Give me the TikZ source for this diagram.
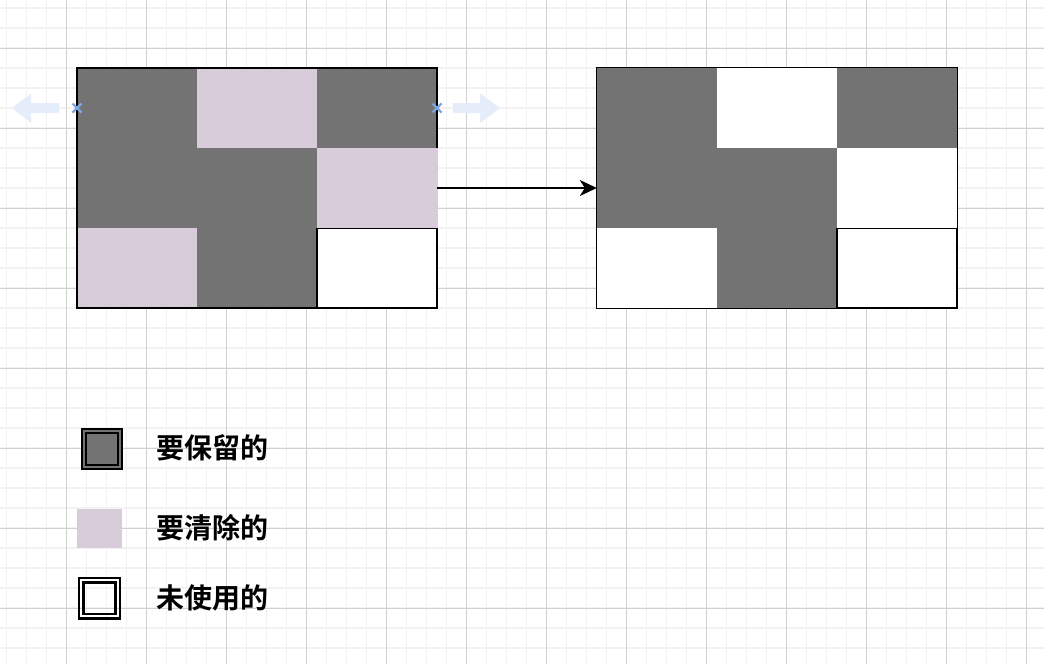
\documentclass[tikz,border=0pt]{standalone}
\usepackage{fontspec}
\newfontfamily\cjk{Noto Sans CJK SC}[BoldFont={Noto Sans CJK SC Bold}]
\usetikzlibrary{arrows.meta}
\definecolor{keep}{HTML}{737373}
\definecolor{clear}{HTML}{D9CCDA}
\definecolor{minorg}{HTML}{F2F2F2}
\definecolor{majorg}{HTML}{D0D0D0}
\definecolor{hint}{HTML}{7EA6E0}
\definecolor{hintfill}{HTML}{E4EDF9}
\begin{document}
\begin{tikzpicture}[x=1pt,y=-1pt,
  block/.style={minimum width=360pt,minimum height=240pt,inner sep=0pt,fill=keep},
  legendtext/.style={anchor=west,inner sep=0pt,font=\cjk\bfseries\fontsize{28}{30}\selectfont},
  edge/.style={line width=1.3pt},
  minorline/.style={minorg,line width=1.6pt},
  majorline/.style={majorg,line width=1pt},
  hintx/.style={hint,line width=2.2pt},
  hintarrow/.style={fill=hintfill,draw=none}]
\useasboundingbox (0,0) rectangle (1044,664);
\fill[white] (0,0) rectangle (1044,664);
% grid
\foreach \i in {0,...,51} \draw[minorline] (6.5+20*\i,0) -- (6.5+20*\i,664);
\foreach \i in {0,...,32} \draw[minorline] (0,8+20*\i) -- (1044,8+20*\i);
\foreach \i in {0,...,12} \draw[majorline] (66.5+80*\i,0) -- (66.5+80*\i,664);
\foreach \i in {0,...,7} \draw[majorline] (0,48+80*\i) -- (1044,48+80*\i);
% left block
\node[block] (L) at (257,188) {};
\fill[clear] (197,68) rectangle (317,148);
\fill[clear] (317,148) rectangle (437.8,228);
\fill[clear] (77,228) rectangle (197,308);
\draw[edge] (437,148) -- (437,68) -- (77,68) -- (77,308) -- (437,308) -- (437,228);
\node[draw,edge,fill=white,minimum width=120pt,minimum height=79.5pt,inner sep=0pt] (Lw) at (377,268.25) {};
% right block
\node[block] (R) at (777,188) {};
\fill[white] (717,68) rectangle (837,148);
\fill[white] (837,148) rectangle (957,228);
\fill[white] (597,228) rectangle (717,308);
\draw[edge] (R.north west) rectangle (R.south east);
\node[draw,edge,fill=white,minimum width=120pt,minimum height=79.5pt,inner sep=0pt] (Rw) at (897,268.25) {};
% arrow
\draw[edge,-{Stealth[length=17pt,width=16pt,inset=5pt]}] (L.east) -- (R.west);
% hover hints
\draw[hintx] (72.5,103.5) -- (81.5,112.5) (72.5,112.5) -- (81.5,103.5);
\draw[hintx] (432.5,103.5) -- (441.5,112.5) (432.5,112.5) -- (441.5,103.5);
\fill[hintarrow] (12,108) -- (31,93.5) -- (31,103) -- (59,103) -- (59,113) -- (31,113) -- (31,123) -- cycle;
\fill[hintarrow] (500,108) -- (480,93.5) -- (480,103) -- (453,103) -- (453,113) -- (480,113) -- (480,123) -- cycle;
% legend
\fill[keep] (81,428) rectangle (123,470);
\draw[line width=2pt] (82,429) rectangle (122,469);
\draw[line width=2pt] (85.7,432.7) rectangle (118.3,465.3);
\node[legendtext] (t1) at (156.5,448) {要保留的};
\fill[clear] (77,509) rectangle (122,548);
\node[legendtext] (t2) at (156.5,528) {要清除的};
\draw[line width=2.3pt] (79.2,578) rectangle (119.8,618.6);
\draw[line width=2.5pt] (83.7,582.5) rectangle (115.3,614.1);
\node[legendtext] (t3) at (156.5,598) {未使用的};
\end{tikzpicture}
\end{document}
